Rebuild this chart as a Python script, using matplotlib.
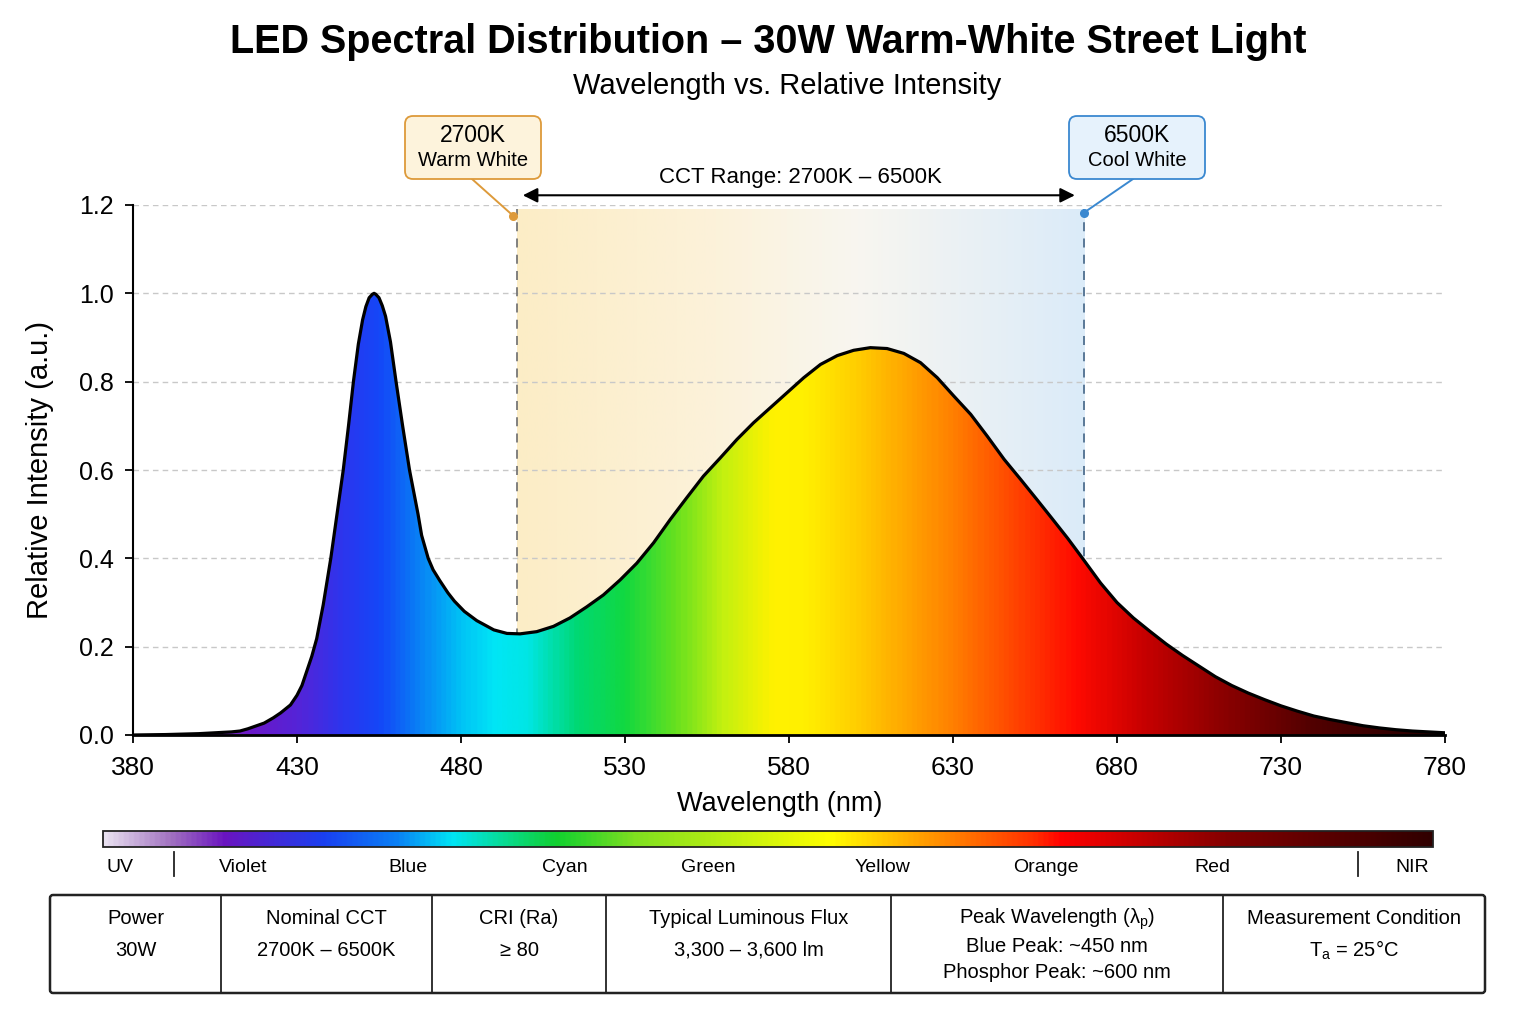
import matplotlib
matplotlib.use("Agg")
import matplotlib.pyplot as plt
import numpy as np
from matplotlib.colors import LinearSegmentedColormap
from matplotlib.patches import Polygon, FancyBboxPatch, Rectangle

plt.rcParams['font.family'] = ['Liberation Sans', 'DejaVu Sans']

# spectrum (nm, relative intensity)
wavelength = [380, 390, 400, 405, 410, 412.6, 415, 420, 422.8, 425, 428, 430, 431.5, 433,
              434.5, 436, 438, 440.3, 442.2, 444.1, 445.7, 447.2, 448.7, 450, 451, 452, 453,
              453.5, 454, 455, 456, 457, 458.5, 460.2, 462.2, 464.3, 466.9, 468, 470,
              471.5, 473.5, 476, 478, 481, 484.8, 490, 494,
              498, 503.1, 508.2, 513.2, 518.3, 523.4, 528.5, 533.6, 538.7, 543.8, 548.8,
              553.9, 559, 564.1, 569.2, 574.3, 579.4, 584.5, 589.6, 594.7, 599.7, 604.8,
              609.9, 615, 620.1, 625.2, 630.3, 635.4, 640.5, 645.6, 650.7, 655.7, 660,
              665, 669, 675, 680, 685, 690, 695, 700, 705, 710, 715, 720, 725, 730, 735,
              740, 745, 750, 755, 760, 765, 770, 775, 780]
intensity = [0.000, 0.001, 0.003, 0.005, 0.007, 0.009, 0.014, 0.027, 0.039, 0.050, 0.068,
             0.090, 0.112, 0.145, 0.178, 0.218, 0.295, 0.400, 0.500, 0.600, 0.700, 0.800,
             0.885, 0.940, 0.970, 0.990, 0.998, 1.000, 0.998, 0.990, 0.972, 0.948, 0.890,
             0.800, 0.700, 0.600, 0.500, 0.452, 0.400, 0.374, 0.350, 0.322, 0.303, 0.280,
             0.259, 0.238, 0.230,
             0.229, 0.234, 0.246, 0.265, 0.290, 0.317, 0.351, 0.389, 0.435, 0.488, 0.537,
             0.586, 0.627, 0.669, 0.707, 0.741, 0.775, 0.809, 0.839, 0.859, 0.871, 0.877,
             0.875, 0.864, 0.843, 0.809, 0.767, 0.726, 0.676, 0.624, 0.578, 0.532, 0.492,
             0.445, 0.405, 0.344, 0.300, 0.265, 0.235, 0.206, 0.180, 0.156, 0.132, 0.112,
             0.095, 0.080, 0.066, 0.054, 0.043, 0.035, 0.028, 0.021, 0.016, 0.012, 0.009,
             0.007, 0.005]

cct_lo, cct_hi = 497, 670
xticks = [380, 430, 480, 530, 580, 630, 680, 730, 780]
yticks = [0.0, 0.2, 0.4, 0.6, 0.8, 1.0, 1.2]

band_labels = ['UV', 'Violet', 'Blue', 'Cyan', 'Green', 'Yellow', 'Orange', 'Red', 'NIR']
band_x = [120, 243, 408, 565, 708, 882, 1046, 1212, 1412]

tbl_headers = ['Power', 'Nominal CCT', 'CRI (Ra)', 'Typical Luminous Flux',
               r'Peak Wavelength (λ$_\mathregular{p}$)', 'Measurement Condition']
tbl_values = [['30W'], ['2700K – 6500K'], ['≥ 80'], ['3,300 – 3,600 lm'],
              ['Blue Peak: ~450 nm', 'Phosphor Peak: ~600 nm'], [r'T$_\mathregular{a}$ = 25°C']]
tbl_edges = [50, 221, 432, 606, 891, 1223, 1485]

# colour maps
spec_stops = [(380, '#cbb8e6'), (400, '#8a3ab8'), (415, '#6a18c8'), (430, '#5424d8'),
              (445, '#2838f0'), (455, '#1448f8'), (465, '#0a78f5'), (480, '#00c4f5'),
              (490, '#00e6f6'), (500, '#00e6e4'), (515, '#00d874'), (530, '#12d840'),
              (545, '#64e020'), (560, '#c4f010'), (575, '#fff200'), (585, '#fff000'),
              (600, '#ffd000'), (612, '#ffb000'), (630, '#ff8000'), (650, '#ff4200'),
              (668, '#ff0a00'), (690, '#c40000'), (710, '#920000'), (740, '#520000'),
              (780, '#220000')]
spec_cmap = LinearSegmentedColormap.from_list(
    'spec', [((w - 380) / 400, c) for w, c in spec_stops])

bar_stops = [(0.0, '#e8e0f0'), (0.05, '#a070c0'), (0.09, '#6a14c0'), (0.165, '#1a40f0'),
             (0.22, '#0a80f5'), (0.262, '#00e5f5'), (0.34, '#10d030'), (0.40, '#80e020'),
             (0.547, '#ffff00'), (0.62, '#ff9a00'), (0.70, '#ff3000'), (0.722, '#ff0000'),
             (0.85, '#800000'), (1.0, '#300000')]
bar_cmap = LinearSegmentedColormap.from_list('bar', bar_stops)

cct_cmap = LinearSegmentedColormap.from_list(
    'cct', [(0, '#fcedc6'), (0.35, '#fcf2da'), (0.6, '#f8f6f0'), (1.0, '#dbebf9')])

fig = plt.figure(figsize=(15.36, 10.24), dpi=100)
ax = fig.add_axes([133 / 1536, 1 - 735 / 1024, 1312 / 1536, 530 / 1024])

# CCT shaded band
ax.imshow(np.linspace(0, 1, 256)[np.newaxis, :], extent=[cct_lo, cct_hi, 0, 1.19],
          aspect='auto', cmap=cct_cmap, origin='lower', zorder=0.2)
ax.vlines(cct_lo, 0, 1.19, colors='#777777', linestyles=(0, (5, 4)), lw=1.3, zorder=1)
ax.vlines(cct_hi, 0, 1.19, colors='#50708f', linestyles=(0, (5, 4)), lw=1.3, zorder=1)

# spectrum gradient fill
verts = list(zip(wavelength, intensity)) + [(780, 0), (380, 0)]
clip = Polygon(verts, closed=True, facecolor='none', edgecolor='none')
ax.add_patch(clip)
img = ax.imshow(np.linspace(0, 1, 800)[np.newaxis, :], extent=[380, 780, 0, 1.2],
                aspect='auto', cmap=spec_cmap, origin='lower', zorder=2)
img.set_clip_path(clip)
ax.plot(wavelength, intensity, color='black', lw=2.3, zorder=3, solid_joinstyle='round')

ax.set_xlim(380, 780)
ax.set_ylim(0, 1.2)
ax.set_xticks(xticks)
ax.set_yticks(yticks)
ax.set_yticklabels([f'{v:.1f}' for v in yticks])
ax.tick_params(length=6, width=1.3)
ax.tick_params(axis='x', labelsize=19, pad=9)
ax.tick_params(axis='y', labelsize=18, pad=8)
ax.yaxis.grid(True, color='#c8c8c8', linestyle=(0, (4, 3)), lw=1)
ax.set_axisbelow(True)
for s in ['top', 'right']:
    ax.spines[s].set_visible(False)
ax.spines['left'].set_linewidth(1.5)
ax.spines['bottom'].set_linewidth(2)
ax.set_xlabel('Wavelength (nm)', fontsize=19.5)
ax.set_ylabel('Relative Intensity (a.u.)', fontsize=21, labelpad=18)
ax.xaxis.set_label_coords(0.493, -0.105)

# CCT arrow and label
ax.annotate('', xy=(cct_lo + 1, 1.222), xytext=(cct_hi - 2, 1.222),
            arrowprops=dict(arrowstyle='<|-|>', color='black', lw=1.5, mutation_scale=22),
            annotation_clip=False)
ax.text((cct_lo + cct_hi) / 2, 1.262, 'CCT Range: 2700K – 6500K', ha='center', va='center',
        fontsize=16, clip_on=False)

# overlay in pixel coordinates
ov = fig.add_axes([0, 0, 1, 1])
ov.set_xlim(0, 1536)
ov.set_ylim(1024, 0)
ov.axis('off')

fig.text(0.5, 1 - 42 / 1024, 'LED Spectral Distribution – 30W Warm-White Street Light',
         ha='center', va='center', fontsize=28.5, fontweight='bold')
fig.text(787 / 1536, 1 - 86 / 1024, 'Wavelength vs. Relative Intensity', ha='center',
         va='center', fontsize=21)

# callout boxes
for (x0, x1, fc, ec, t1, t2, pt, anchor) in [
        (405, 541, '#fdf3dc', '#dd9a3a', '2700K', 'Warm White', (cct_lo - 1, 1.175), (472, 179)),
        (1069, 1205, '#e6f2fc', '#3a88d0', '6500K', 'Cool White', (cct_hi, 1.183), (1133, 179))]:
    ov.add_patch(FancyBboxPatch((x0, 116), x1 - x0, 63, boxstyle='round,pad=0,rounding_size=8',
                                facecolor=fc, edgecolor=ec, lw=1.3))
    cx = (x0 + x1) / 2
    ov.text(cx, 135, t1, ha='center', va='center', fontsize=16.5)
    ov.text(cx, 160, t2, ha='center', va='center', fontsize=14.5)
    ax.annotate('', xy=pt, xytext=anchor, textcoords=ov.transData,
                arrowprops=dict(arrowstyle='-', color=ec, lw=1.4, shrinkA=0, shrinkB=0),
                annotation_clip=False)
    ax.plot(*pt, 'o', color=ec, ms=5.5, clip_on=False, zorder=5)

# colour bar strip
ov.imshow(np.linspace(0, 1, 512)[np.newaxis, :], extent=[103, 1433, 847, 831],
          aspect='auto', cmap=bar_cmap)
ov.add_patch(Rectangle((103, 831), 1330, 16, facecolor='none', edgecolor='#222222', lw=1.3))
ov.set_xlim(0, 1536)
ov.set_ylim(1024, 0)
for lab, x in zip(band_labels, band_x):
    ov.text(x, 867, lab, ha='center', va='center', fontsize=14)
for x in [174, 1358]:
    ov.plot([x, x], [852, 876], color='#222222', lw=1.3)

# spec table
ov.add_patch(FancyBboxPatch((tbl_edges[0], 895), tbl_edges[-1] - tbl_edges[0], 98,
                            boxstyle='round,pad=0,rounding_size=3',
                            facecolor='white', edgecolor='#222222', lw=1.8))
for x in tbl_edges[1:-1]:
    ov.plot([x, x], [895, 993], color='#222222', lw=1.3)
for i, (h, vals) in enumerate(zip(tbl_headers, tbl_values)):
    cx = (tbl_edges[i] + tbl_edges[i + 1]) / 2
    ov.text(cx, 919, h, ha='center', va='center', fontsize=14.5)
    ys = [950] if len(vals) == 1 else [946, 972]
    for v, y in zip(vals, ys):
        ov.text(cx, y, v, ha='center', va='center', fontsize=14.5)

fig.savefig('out.png', dpi=100, facecolor='white')
